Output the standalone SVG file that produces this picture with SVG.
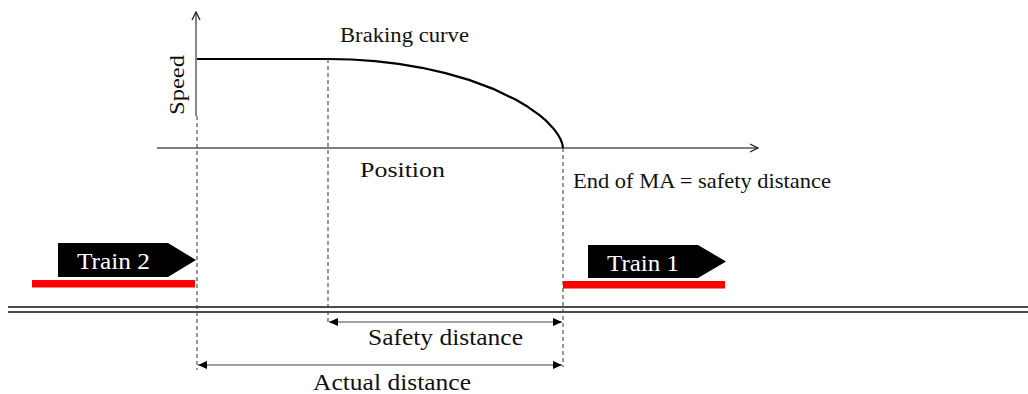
<svg xmlns="http://www.w3.org/2000/svg" width="1028" height="394" viewBox="0 0 1028 394">
  <style>
    .lbl { font-family: "Liberation Serif", "Times New Roman", serif; fill: #111; }
    .axis { stroke: #555; stroke-width: 1.4; fill: none; }
    .dash { stroke: #444; stroke-width: 1.1; stroke-dasharray: 4 3; fill: none; }
    .dim { stroke: #444; stroke-width: 1.1; fill: none; }
    .rail { stroke: #111; stroke-width: 1.6; }
    .train { fill: #000; }
    .block { fill: #ff0000; }
    .tlbl { font-family: "Liberation Serif", "Times New Roman", serif; fill: #fff; font-size: 23px; }
  </style>
  <defs>
    <marker id="open" markerWidth="10" markerHeight="10" refX="9" refY="5" orient="auto" markerUnits="userSpaceOnUse">
      <path d="M1,1 L9,5 L1,9" fill="none" stroke="#222" stroke-width="1.3"/>
    </marker>
    <marker id="solid" markerWidth="10" markerHeight="8" refX="9" refY="4" orient="auto-start-reverse" markerUnits="userSpaceOnUse">
      <path d="M0,0 L9,4 L0,8 Z" fill="#000"/>
    </marker>
  </defs>

  <!-- speed / position chart -->
  <g id="chart">
    <line class="axis" x1="196" y1="116" x2="196" y2="12" marker-end="url(#open)"/>
    <line class="axis" x1="157" y1="148" x2="758" y2="148" marker-end="url(#open)"/>
    <text class="lbl" font-size="22" transform="translate(184,115) rotate(-90)" textLength="60" lengthAdjust="spacingAndGlyphs">Speed</text>
    <text class="lbl" font-size="22" x="360" y="177" textLength="85" lengthAdjust="spacingAndGlyphs">Position</text>
  </g>

  <g id="braking-curve">
    <polyline fill="none" stroke="#000" stroke-width="2.2" stroke-linejoin="round"
      points="197,59 328,59 351.5,59.5 375,61.2 398.5,63.9 422,67.8 445.5,73.1 469,79.9 492.5,88.6 516,99.8 527.8,106.8 539.5,115.1 546.6,121.2 553.6,128.7 558.3,135.2 560.7,139.5 562.3,143.9 563,148"/>
    <text class="lbl" font-size="20" x="340" y="42" textLength="129" lengthAdjust="spacingAndGlyphs">Braking curve</text>
  </g>

  <g id="end-of-ma">
    <text class="lbl" font-size="22" x="573" y="188" textLength="258" lengthAdjust="spacingAndGlyphs">End of MA = safety distance</text>
  </g>

  <!-- track -->
  <g id="track">
    <line class="rail" x1="8" y1="307" x2="1028" y2="307"/>
    <line class="rail" x1="8" y1="312" x2="1028" y2="312"/>
  </g>

  <g id="train-2">
    <rect class="block" x="32" y="280" width="163" height="7.5"/>
    <polygon class="train" points="58,243 168,243 196,260 168,277 58,277"/>
    <text class="tlbl" x="77" y="269" textLength="73" lengthAdjust="spacingAndGlyphs">Train 2</text>
  </g>

  <g id="train-1">
    <rect class="block" x="563" y="281" width="162" height="7.5"/>
    <polygon class="train" points="588,245 698,245 726,261.5 698,278 588,278"/>
    <text class="tlbl" x="607" y="271" textLength="72" lengthAdjust="spacingAndGlyphs">Train 1</text>
  </g>

  <!-- guide lines and distance dimensions -->
  <g id="connectors">
    <line class="dash" x1="197" y1="116" x2="197" y2="370"/>
    <line class="dash" x1="328" y1="59" x2="328" y2="324"/>
    <line class="dash" x1="563" y1="148" x2="563" y2="367"/>
    <line class="dim" x1="329" y1="322" x2="562" y2="322" marker-start="url(#solid)" marker-end="url(#solid)"/>
    <line class="dim" x1="198" y1="365" x2="562" y2="365" marker-start="url(#solid)" marker-end="url(#solid)"/>
  </g>

  <g id="safety-distance">
    <text class="lbl" font-size="23" x="368" y="345" textLength="155" lengthAdjust="spacingAndGlyphs">Safety distance</text>
  </g>
  <g id="actual-distance">
    <text class="lbl" font-size="23" x="313" y="390" textLength="158" lengthAdjust="spacingAndGlyphs">Actual distance</text>
  </g>
</svg>
